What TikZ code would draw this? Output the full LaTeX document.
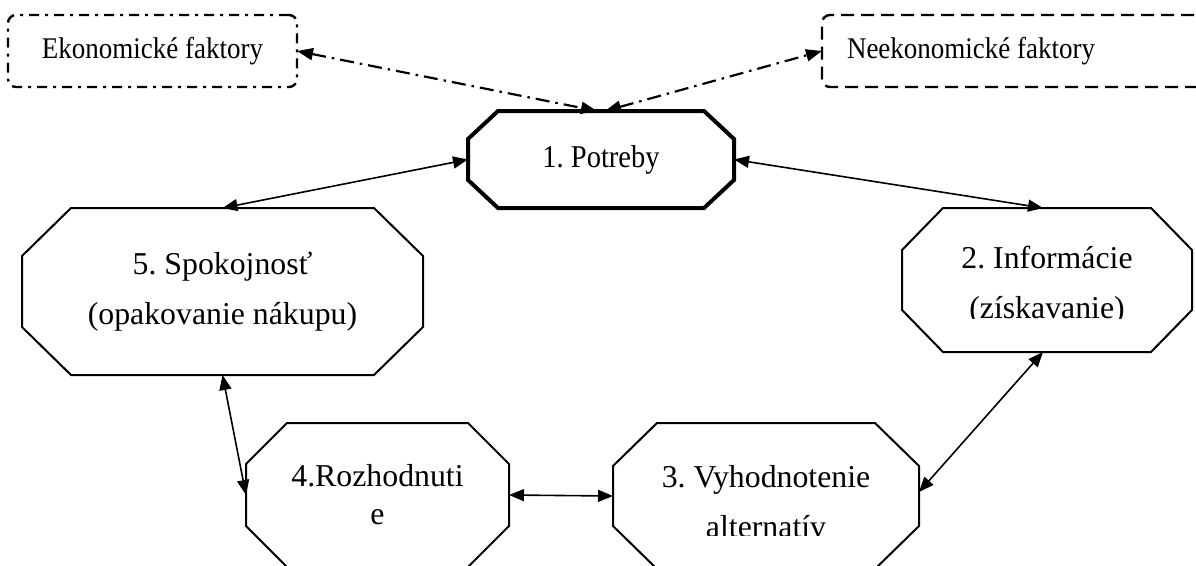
\documentclass[tikz,border=0pt]{standalone}
\usepackage{fontspec}
\setmainfont{Liberation Serif}
\newfontfamily\narrowserif[FakeStretch=0.9]{Liberation Serif}
\usetikzlibrary{arrows.meta}
\frenchspacing

% octagon round a node: [style]{name}{cut x}{cut y}
\newcommand{\octagonof}[4][]{%
  \draw[#1] ([xshift=#3]#2.north west) -- ([xshift=-#3]#2.north east)
    -- ([yshift=-#4]#2.north east) -- ([yshift=#4]#2.south east)
    -- ([xshift=-#3]#2.south east) -- ([xshift=#3]#2.south west)
    -- ([yshift=#4]#2.south west) -- ([yshift=-#4]#2.north west) -- cycle;}

\begin{document}
\begin{tikzpicture}[x=1pt,y=-1pt,
  stage/.style={inner sep=0pt,outer sep=0pt,align=center,font=\fontsize{31.8}{50}\selectfont},
  factor/.style={draw,rounded corners=8pt,line width=2.4pt,inner sep=0pt,outer sep=0pt,
    minimum height=72pt,font=\narrowserif\fontsize{30}{36}\selectfont},
  link/.style={{Triangle[length=15pt,width=12pt]}-{Triangle[length=15pt,width=12pt]},line width=1.6pt},
  dashlink/.style={{Triangle[length=16pt,width=12pt]}-{Triangle[length=16pt,width=12pt]},
    line width=2.2pt,dash pattern=on 14pt off 6pt on 2.5pt off 6pt}]
  \useasboundingbox (0,0) rectangle (1196,565);
  \clip (0,0) rectangle (1196,565);

  % factors
  \node[factor,dash pattern=on 10pt off 6pt on 3pt off 6pt,minimum width=289pt] (ekon) at (152.5,51) {Ekonomické faktory};
  \node[factor,dash pattern=on 13pt off 7pt,anchor=west,text width=350pt,inner xsep=25pt,align=flush left] (neekon) at (822,51) {Neekonomické faktory};

  % stages
  \node[stage,font=\narrowserif\fontsize{31.7}{40}\selectfont,minimum width=266pt,minimum height=97pt] (potreby) at (601,159.5) {1. Potreby};
  \node[stage,minimum width=401pt,minimum height=167pt] (spokojnost) at (222.5,291.5) {5. Spokojnosť\\(opakovanie nákupu)};
  \begin{scope}
    \clip (890,200) rectangle (1196,318);
    \node[stage,minimum width=290pt,minimum height=144pt] (informacie) at (1047,280) {\rule{0pt}{34pt}2. Informácie\\(získavanie)};
  \end{scope}
  \begin{scope}
    \clip (600,420) rectangle (930,535);
    \node[stage,minimum width=306pt,minimum height=146pt] (vyhodnotenie) at (766,496) {\rule{0pt}{34pt}3. Vyhodnotenie\\alternatív};
  \end{scope}
  \node[stage,font=\fontsize{31.8}{38}\selectfont,minimum width=263pt,minimum height=144pt] (rozhodnutie) at (377.5,495) {4.Rozhodnuti\\e};

  \octagonof[line width=4pt]{potreby}{30pt}{28pt}
  \octagonof[line width=2pt]{spokojnost}{49pt}{48pt}
  \octagonof[line width=2pt]{informacie}{41pt}{42pt}
  \octagonof[line width=2pt]{vyhodnotenie}{44pt}{43pt}
  \octagonof[line width=2pt]{rozhodnutie}{41pt}{41pt}

  % connectors
  \draw[dashlink] (ekon.east) -- ([xshift=-4pt]potreby.north);
  \draw[dashlink] ([xshift=4pt]potreby.north) -- (neekon.west);
  \draw[link] (spokojnost.north) -- (potreby.west);
  \draw[link] (potreby.east) -- ([xshift=-4pt]informacie.north);
  \draw[link] ([xshift=-4pt]informacie.south) -- ([yshift=4pt]vyhodnotenie.east);
  \draw[link] (rozhodnutie.east) -- (vyhodnotenie.west);
  \draw[link] (spokojnost.south) -- (rozhodnutie.west);
\end{tikzpicture}
\end{document}
